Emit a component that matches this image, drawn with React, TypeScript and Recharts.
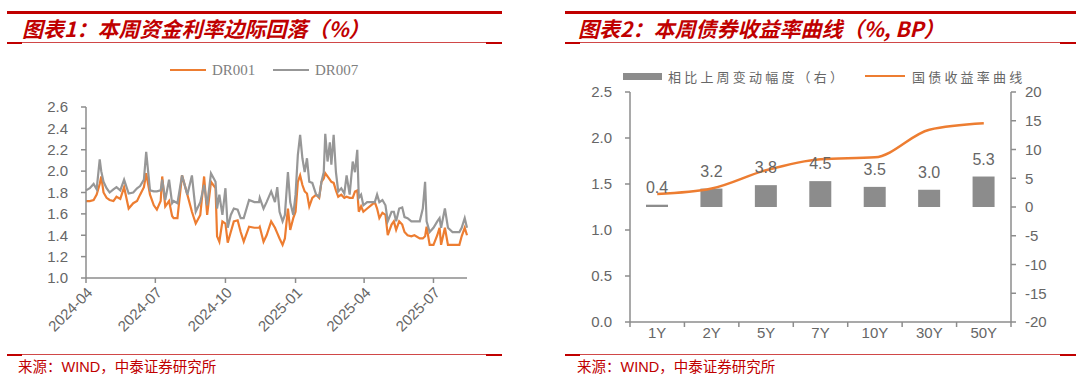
import React from 'react';
import { LineChart, Line, ComposedChart, Bar, XAxis, YAxis, Legend, LabelList } from 'recharts';

// 图表1：DR001 / DR007 (%)
const fundDates = [
  '2024-04-01', '2024-04-06', '2024-04-11', '2024-04-15', '2024-04-19', '2024-04-21', '2024-04-24', '2024-04-28',
  '2024-05-02', '2024-05-07', '2024-05-11', '2024-05-16', '2024-05-21', '2024-05-27', '2024-06-02', '2024-06-07',
  '2024-06-11', '2024-06-16', '2024-06-19', '2024-06-24', '2024-06-29', '2024-07-03', '2024-07-08', '2024-07-10',
  '2024-07-14', '2024-07-19', '2024-07-23', '2024-07-25', '2024-07-30', '2024-08-05', '2024-08-12', '2024-08-18',
  '2024-08-23', '2024-08-29', '2024-09-03', '2024-09-07', '2024-09-12', '2024-09-18', '2024-09-20', '2024-09-23',
  '2024-09-27', '2024-10-01', '2024-10-04', '2024-10-08', '2024-10-12', '2024-10-17', '2024-10-21', '2024-10-25',
  '2024-11-01', '2024-11-08', '2024-11-14', '2024-11-15', '2024-11-20', '2024-11-24', '2024-11-30', '2024-12-05',
  '2024-12-08', '2024-12-11', '2024-12-15', '2024-12-18', '2024-12-22', '2024-12-25', '2024-12-29', '2025-01-01',
  '2025-01-04', '2025-01-07', '2025-01-10', '2025-01-13', '2025-01-16', '2025-01-19', '2025-01-23', '2025-01-28',
  '2025-02-01', '2025-02-04', '2025-02-07', '2025-02-09', '2025-02-12', '2025-02-15', '2025-02-17', '2025-02-20',
  '2025-02-23', '2025-02-26', '2025-03-02', '2025-03-06', '2025-03-09', '2025-03-13', '2025-03-17', '2025-03-20',
  '2025-03-23', '2025-03-25', '2025-03-28', '2025-03-31', '2025-04-05', '2025-04-10', '2025-04-15', '2025-04-18',
  '2025-04-21', '2025-04-25', '2025-04-29', '2025-05-02', '2025-05-07', '2025-05-10', '2025-05-13', '2025-05-17',
  '2025-05-21', '2025-05-24', '2025-05-28', '2025-06-02', '2025-06-06', '2025-06-13', '2025-06-17', '2025-06-20',
  '2025-06-22', '2025-06-26', '2025-07-01', '2025-07-06', '2025-07-09', '2025-07-11', '2025-07-16', '2025-07-20',
  '2025-07-26', '2025-08-04', '2025-08-07', '2025-08-11', '2025-08-14',
];
const dr001 = [
  1.72, 1.72, 1.73, 1.78, 1.88, 1.95, 1.80, 1.75,
  1.73, 1.72, 1.76, 1.74, 1.85, 1.65, 1.70, 1.72,
  1.78, 1.85, 1.98, 1.78, 1.68, 1.64, 1.72, 1.95,
  1.67, 1.72, 1.58, 1.56, 1.56, 1.96, 1.78, 1.62,
  1.51, 1.59, 1.95, 1.59, 1.90, 1.84, 1.39, 1.34,
  1.53, 1.51, 1.33, 1.43, 1.53, 1.54, 1.43, 1.34,
  1.48, 1.47, 1.47, 1.48, 1.34, 1.40, 1.53, 1.47,
  1.42, 1.37, 1.31, 1.37, 1.65, 1.45, 1.56, 1.62,
  1.90, 1.96, 1.87, 1.81, 1.79, 1.67, 1.75, 1.78,
  1.75, 1.90, 1.93, 1.98, 1.95, 1.92, 1.90, 1.89,
  1.82, 1.76, 1.78, 1.75, 1.76, 1.75, 1.75, 1.81,
  1.82, 1.62, 1.67, 1.62, 1.65, 1.68, 1.71, 1.65,
  1.56, 1.61, 1.59, 1.40, 1.50, 1.53, 1.45, 1.53,
  1.50, 1.43, 1.40, 1.39, 1.40, 1.37, 1.37, 1.39,
  1.48, 1.31, 1.31, 1.40, 1.47, 1.31, 1.47, 1.31,
  1.31, 1.31, 1.39, 1.47, 1.40,
];
const dr007 = [
  1.82, 1.84, 1.88, 1.83, 2.11, 2.00, 1.90, 1.84,
  1.80, 1.83, 1.85, 1.82, 1.92, 1.79, 1.80, 1.84,
  1.86, 1.92, 2.18, 1.82, 1.81, 1.81, 1.82, 1.92,
  1.73, 1.92, 1.70, 1.72, 1.70, 1.96, 1.78, 1.96,
  1.62, 1.71, 1.87, 1.68, 1.98, 1.90, 1.65, 1.78,
  1.59, 1.84, 1.47, 1.59, 1.65, 1.64, 1.56, 1.56,
  1.73, 1.71, 1.71, 1.75, 1.65, 1.71, 1.81, 1.71,
  1.85, 1.62, 1.53, 1.59, 1.99, 1.71, 1.59, 1.78,
  2.15, 2.34, 2.12, 1.99, 2.12, 1.90, 1.89, 1.78,
  1.76, 1.90, 1.99, 2.35, 2.09, 2.27, 2.06, 2.34,
  1.99, 1.81, 1.84, 1.79, 1.96, 1.78, 2.09, 1.99,
  2.20, 1.75, 1.78, 1.68, 1.71, 1.71, 1.71, 1.78,
  1.71, 1.73, 1.68, 1.53, 1.62, 1.62, 1.53, 1.65,
  1.66, 1.57, 1.56, 1.53, 1.53, 1.53, 1.65, 1.90,
  1.53, 1.43, 1.47, 1.53, 1.56, 1.47, 1.65, 1.47,
  1.43, 1.43, 1.47, 1.56, 1.47,
];
const fundTickDates = ['2024-04-01', '2024-07-01', '2024-10-01', '2025-01-01', '2025-04-01', '2025-07-01'];
const fundTickLabels = ['2024-04', '2024-07', '2024-10', '2025-01', '2025-04', '2025-07'];
const fundYTicks = [1.0, 1.2, 1.4, 1.6, 1.8, 2.0, 2.2, 2.4, 2.6];
const fundEndDate = '2025-08-14';

// 图表2：国债收益率曲线 (%) 与 相比上周变动 (BP)
const tenors = ['1Y', '2Y', '5Y', '7Y', '10Y', '30Y', '50Y'];
const yieldCurve = [1.39, 1.45, 1.65, 1.77, 1.79, 2.09, 2.16];
const weeklyChange = [0.4, 3.2, 3.8, 4.5, 3.5, 3.0, 5.3];
const yieldTicks = [0, 0.5, 1.0, 1.5, 2.0, 2.5];
const changeTicks = [-20, -15, -10, -5, 0, 5, 10, 15, 20];

const START = Date.parse(fundDates[0]);
const toDay = (d: string) => Math.round((Date.parse(d) - START) / 86400000);

const fundData = fundDates.map((d, i) => ({ day: toDay(d), dr001: dr001[i], dr007: dr007[i] }));
const fundTicks = fundTickDates.map(toDay);
const curveData = tenors.map((t, i) => ({ tenor: t, curve: yieldCurve[i], change: weeklyChange[i] }));

const RED = '#c00000';
const ORANGE = '#ED7D31';
const AXIS = '#8c8c8c';
const TICK_TEXT = '#666666';
const SANS = '"Liberation Sans", Arial, sans-serif';
const CJK = '"Noto Sans CJK SC", "Noto Sans", sans-serif';

const FundLegend = (props: any) => {
  const items = props.payload || [];
  const lefts = [170, 273];
  return (
    <div style={{ position: 'relative', height: 47 }}>
      {items.map((it: any, i: number) => (
        <div key={i} style={{ position: 'absolute', left: lefts[i], top: 0, height: 20, display: 'flex', alignItems: 'center', whiteSpace: 'nowrap' }}>
          <span style={{ display: 'inline-block', width: 36, height: 2.5, background: it.color, marginRight: 6 }} />
          <span style={{ fontFamily: '"Liberation Serif", serif', fontSize: 15, color: '#808080' }}>{it.value}</span>
        </div>
      ))}
    </div>
  );
};

const CurveLegend = (props: any) => {
  const items = props.payload || [];
  return (
    <div style={{ position: 'relative', height: 32 }}>
      {items.map((it: any, i: number) => (
        <div
          key={i}
          style={{ position: 'absolute', left: it.type === 'rect' ? 63 : 305, top: 5, height: 22, display: 'flex', alignItems: 'center', whiteSpace: 'nowrap' }}
        >
          {it.type === 'rect' ? (
            <span style={{ display: 'inline-block', width: 39, height: 7, background: it.color, marginRight: 6 }} />
          ) : (
            <span style={{ display: 'inline-block', width: 40, height: 2.5, background: it.color, marginRight: 7 }} />
          )}
          <span style={{ fontFamily: CJK, fontSize: 13, letterSpacing: 3.2, color: '#666' }}>{it.value}</span>
        </div>
      ))}
    </div>
  );
};

const TenorTick = (props: any) => {
  const { x, y, payload, index } = props;
  const half = typeof payload.offset === 'number' && payload.offset > 0 ? payload.offset : 27.2;
  return (
    <g>
      <line x1={x - half} x2={x - half} y1={y - 5} y2={y} stroke={AXIS} strokeWidth={1.5} />
      {index === tenors.length - 1 && <line x1={x + half} x2={x + half} y1={y - 5} y2={y} stroke={AXIS} strokeWidth={1.5} />}
      <text x={x} y={y} dy={11} textAnchor="middle" fill={TICK_TEXT} fontSize={15} fontFamily={SANS}>
        {payload.value}
      </text>
    </g>
  );
};

const Rule = ({ left, top, width }: { left: number; top: number; width: number }) => (
  <>
    <div style={{ position: 'absolute', left, top, width, height: 1, background: '#d04848' }} />
    <div style={{ position: 'absolute', left, top: top - 0.5, width: 15, height: 2, background: RED }} />
    <div style={{ position: 'absolute', left: left + width - 16, top: top - 0.5, width: 16, height: 2, background: RED }} />
  </>
);

const Title = ({ left, text }: { left: number; text: string }) => (
  <div style={{ position: 'absolute', left, top: 15, fontFamily: CJK, fontSize: 21, fontWeight: 700, fontStyle: 'italic', color: RED, lineHeight: '26px', whiteSpace: 'nowrap' }}>
    {text}
  </div>
);

const Source = ({ left }: { left: number }) => (
  <div style={{ position: 'absolute', left, top: 356, fontFamily: CJK, fontSize: 14.5, color: RED, lineHeight: '20px', whiteSpace: 'nowrap' }}>
    来源：<span style={{ fontFamily: SANS }}>WIND</span>，中泰证券研究所
  </div>
);

export default function App() {
  return (
    <div style={{ position: 'absolute', left: 0, top: 0, width: 1080, height: 381, background: '#fff', overflow: 'hidden' }}>
      {/* left panel */}
      <div style={{ position: 'absolute', left: 7, top: 11, width: 495, height: 3, background: RED }} />
      <Title left={22} text="图表1：本周资金利率边际回落（%）" />
      <Rule left={7} top={42} width={495} />
      <div style={{ position: 'absolute', left: 0, top: 55 }}>
        <LineChart width={540} height={285} data={fundData} margin={{ top: 5, right: 73, bottom: 0, left: 0 }}>
          <Legend verticalAlign="top" align="left" content={<FundLegend />} />
          <XAxis
            dataKey="day"
            type="number"
            domain={[0, toDay(fundEndDate)]}
            ticks={fundTicks}
            tickFormatter={(v: number) => fundTickLabels[fundTicks.indexOf(v)] ?? ''}
            height={62}
            stroke={AXIS}
            strokeWidth={1.5}
            tickSize={5}
            tickMargin={3}
            interval={0}
            tick={{ angle: -45, textAnchor: 'end', fill: TICK_TEXT, fontSize: 15, fontFamily: SANS }}
          />
          <YAxis
            domain={[1.0, 2.6]}
            ticks={fundYTicks}
            tickFormatter={(v: number) => v.toFixed(1)}
            width={86}
            stroke={AXIS}
            strokeWidth={1.5}
            tickSize={5}
            tickMargin={13}
            interval={0}
            tick={{ fill: TICK_TEXT, fontSize: 15, fontFamily: SANS }}
          />
          <Line dataKey="dr001" name="DR001" type="linear" stroke={ORANGE} strokeWidth={2.2} dot={false} isAnimationActive={false} />
          <Line dataKey="dr007" name="DR007" type="linear" stroke="#979797" strokeWidth={2.2} dot={false} isAnimationActive={false} />
        </LineChart>
      </div>
      <Rule left={7} top={354} width={495} />
      <Source left={18} />

      {/* right panel */}
      <div style={{ position: 'absolute', left: 565, top: 11, width: 511, height: 3, background: RED }} />
      <Title left={578} text="图表2：本周债券收益率曲线（%, BP）" />
      <Rule left={565} top={42} width={511} />
      <div style={{ position: 'absolute', left: 560, top: 55 }}>
        <ComposedChart width={520} height={300} data={curveData} margin={{ top: 5, right: 0, bottom: 0, left: 0 }}>
          <Legend verticalAlign="top" align="left" content={<CurveLegend />} />
          <XAxis dataKey="tenor" height={33} stroke={AXIS} strokeWidth={1.5} tickLine={false} tickSize={5} tickMargin={0} interval={0} tick={<TenorTick />} />
          <YAxis
            yAxisId="left"
            domain={[0, 2.5]}
            ticks={yieldTicks}
            tickFormatter={(v: number) => v.toFixed(1)}
            width={70}
            stroke={AXIS}
            strokeWidth={1.5}
            tickSize={5}
            tickMargin={13}
            interval={0}
            tick={{ fill: TICK_TEXT, fontSize: 15, fontFamily: SANS }}
          />
          <YAxis
            yAxisId="right"
            orientation="right"
            domain={[-20, 20]}
            ticks={changeTicks}
            width={69}
            stroke={AXIS}
            strokeWidth={1.5}
            tickSize={5}
            tickMargin={9}
            interval={0}
            tick={{ fill: TICK_TEXT, fontSize: 15, fontFamily: SANS }}
          />
          <Bar yAxisId="right" dataKey="change" name="相比上周变动幅度（右）" fill="#8c8c8c" barSize={22} legendType="rect" isAnimationActive={false}>
            <LabelList dataKey="change" position="top" offset={12} fill="#666" fontSize={16} fontFamily={SANS} formatter={(v: any) => Number(v).toFixed(1)} />
          </Bar>
          <Line yAxisId="left" dataKey="curve" name="国债收益率曲线" type="monotone" stroke={ORANGE} strokeWidth={2.5} dot={false} legendType="line" isAnimationActive={false} />
        </ComposedChart>
      </div>
      <Rule left={565} top={354} width={511} />
      <Source left={577} />
    </div>
  );
}
